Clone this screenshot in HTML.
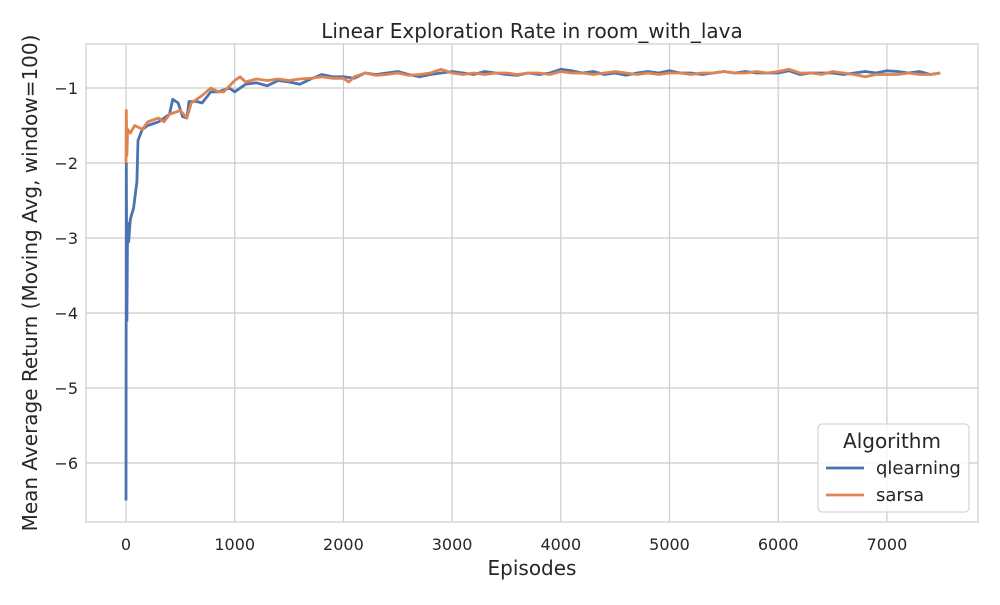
<!DOCTYPE html>
<html><head><meta charset="utf-8"><style>
body{margin:0;background:#fff;font-family:"Liberation Sans","DejaVu Sans",sans-serif;}
svg text{font-family:"DejaVu Sans","Liberation Sans",sans-serif;fill:#262626;}
</style></head><body>
<svg id="chart" width="1000" height="600" xmlns="http://www.w3.org/2000/svg">
<rect x="0" y="0" width="1000" height="600" fill="#fff"/>
<g id="grid"></g>
<rect x="86" y="44" width="892" height="478" fill="none" stroke="#ccc" stroke-width="1.2"/>
<g id="series"></g>
<g id="ticks"></g>
<text x="532" y="38" text-anchor="middle" font-size="20">Linear Exploration Rate in room_with_lava</text>
<text x="532" y="575" text-anchor="middle" font-size="20">Episodes</text>
<text transform="translate(37,283) rotate(-90)" text-anchor="middle" font-size="20">Mean Average Return (Moving Avg, window=100)</text>
<g>
<rect x="818" y="424" width="151" height="88" rx="4" fill="#fff" fill-opacity="0.8" stroke="#ccc"/>
<text x="892" y="448" text-anchor="middle" font-size="20">Algorithm</text>
<line x1="826" y1="468" x2="864" y2="468" stroke="#4c72b0" stroke-width="2.8"/>
<text x="876" y="474" font-size="18">qlearning</text>
<line x1="826" y1="495" x2="864" y2="495" stroke="#dd8452" stroke-width="2.8"/>
<text x="876" y="501" font-size="18">sarsa</text>
</g>
</svg>
<script>
const xTicks=[0,1000,2000,3000,4000,5000,6000,7000];
const yTicks=[-1,-2,-3,-4,-5,-6];
const qEp=[0,3,8,15,25,40,70,100,110,150,200,300,400,430,480,520,560,580,650,700,780,850,950,1000,1100,1200,1300,1400,1500,1600,1700,1800,1900,2000,2100,2200,2300,2400,2500,2600,2700,2800,2900,3000,3100,3200,3300,3400,3500,3600,3700,3800,3900,4000,4100,4200,4300,4400,4500,4600,4700,4800,4900,5000,5100,5200,5300,5400,5500,5600,5700,5800,5900,6000,6100,6200,6300,6400,6500,6600,6700,6800,6900,7000,7100,7200,7300,7400,7490];
const qVal=[-6.5,-2.0,-4.1,-2.8,-3.05,-2.75,-2.6,-2.25,-1.7,-1.55,-1.5,-1.45,-1.35,-1.15,-1.2,-1.38,-1.4,-1.18,-1.18,-1.2,-1.05,-1.05,-1.0,-1.05,-0.95,-0.93,-0.97,-0.9,-0.92,-0.95,-0.88,-0.82,-0.85,-0.85,-0.87,-0.8,-0.82,-0.8,-0.78,-0.82,-0.85,-0.82,-0.8,-0.78,-0.8,-0.82,-0.78,-0.8,-0.82,-0.83,-0.8,-0.82,-0.8,-0.75,-0.77,-0.8,-0.78,-0.82,-0.8,-0.83,-0.8,-0.78,-0.8,-0.77,-0.8,-0.8,-0.82,-0.8,-0.78,-0.8,-0.78,-0.8,-0.8,-0.8,-0.77,-0.82,-0.8,-0.8,-0.8,-0.82,-0.8,-0.78,-0.8,-0.77,-0.78,-0.8,-0.78,-0.82,-0.8];
const sEp=[0,3,8,15,40,80,150,200,300,350,400,500,560,600,650,700,780,850,900,1000,1050,1100,1200,1300,1400,1500,1600,1700,1800,1900,2000,2050,2100,2200,2300,2400,2500,2600,2700,2800,2900,3000,3100,3200,3300,3400,3500,3600,3700,3800,3900,4000,4100,4200,4300,4400,4500,4600,4700,4800,4900,5000,5100,5200,5300,5400,5500,5600,5700,5800,5900,6000,6100,6200,6300,6400,6500,6600,6700,6800,6900,7000,7100,7200,7300,7400,7490];
const sVal=[-2.0,-1.3,-1.9,-1.55,-1.6,-1.5,-1.55,-1.45,-1.4,-1.45,-1.35,-1.3,-1.4,-1.2,-1.15,-1.1,-1.0,-1.05,-1.05,-0.9,-0.85,-0.92,-0.88,-0.9,-0.88,-0.9,-0.88,-0.87,-0.85,-0.87,-0.87,-0.92,-0.85,-0.8,-0.83,-0.82,-0.8,-0.83,-0.82,-0.8,-0.75,-0.8,-0.82,-0.8,-0.82,-0.8,-0.8,-0.82,-0.8,-0.8,-0.82,-0.78,-0.8,-0.8,-0.82,-0.8,-0.78,-0.8,-0.82,-0.8,-0.82,-0.8,-0.8,-0.82,-0.8,-0.8,-0.78,-0.8,-0.8,-0.78,-0.8,-0.78,-0.75,-0.8,-0.8,-0.82,-0.78,-0.8,-0.82,-0.85,-0.82,-0.82,-0.82,-0.8,-0.82,-0.82,-0.8];
const NS="http://www.w3.org/2000/svg";
function sx(v){return 126+v*0.1087;}
function sy(v){return 88-(v+1)*75;}
const grid=document.getElementById('grid'),ticks=document.getElementById('ticks'),ser=document.getElementById('series');
xTicks.forEach(t=>{
 const l=document.createElementNS(NS,'line');
 
 
 l.setAttribute('x1',sx(t));l.setAttribute('x2',sx(t));l.setAttribute('y1',44);l.setAttribute('y2',522);
 l.setAttribute('stroke','#ccc');l.setAttribute('stroke-width','1.2');grid.appendChild(l);
 const tx=document.createElementNS(NS,'text');
 
 
 tx.setAttribute('x',sx(t));tx.setAttribute('y',550);tx.setAttribute('text-anchor','middle');tx.setAttribute('font-size','16');
 tx.textContent=t;ticks.appendChild(tx);
});
yTicks.forEach(t=>{
 const l=document.createElementNS(NS,'line');
 
 
 l.setAttribute('x1',86);l.setAttribute('x2',978);l.setAttribute('y1',sy(t));l.setAttribute('y2',sy(t));
 l.setAttribute('stroke','#ccc');l.setAttribute('stroke-width','1.2');grid.appendChild(l);
 const tx=document.createElementNS(NS,'text');
 
 
 tx.setAttribute('x',78);tx.setAttribute('y',sy(t)+6);tx.setAttribute('text-anchor','end');tx.setAttribute('font-size','16');
 tx.textContent='\u2212'+Math.abs(t);ticks.appendChild(tx);
});
function line(ep,val,color,name){
 const p=document.createElementNS(NS,'polyline');
 
 
 p.setAttribute('points',ep.map((e,i)=>sx(e).toFixed(1)+','+sy(val[i]).toFixed(1)).join(' '));
 p.setAttribute('fill','none');p.setAttribute('stroke',color);p.setAttribute('stroke-width','2.8');p.setAttribute('stroke-linejoin','round');
 ser.appendChild(p);
}
line(qEp,qVal,'#4c72b0','qlearning-line');
line(sEp,sVal,'#dd8452','sarsa-line');
</script>
</body></html>
